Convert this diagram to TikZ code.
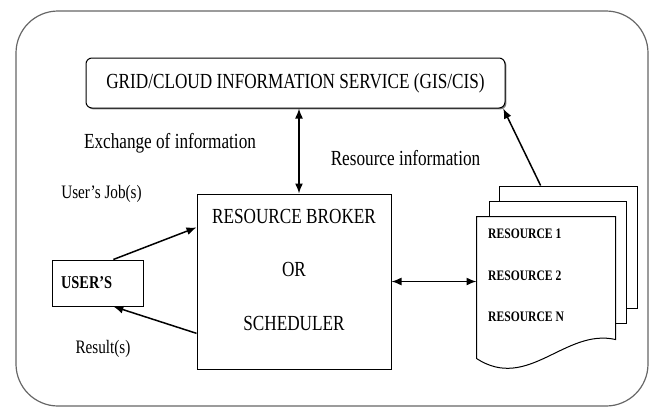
\documentclass[tikz,border=0pt]{standalone}
\usepackage{fontspec}
\setmainfont{Liberation Serif}[FakeStretch=0.8]
\usetikzlibrary{arrows.meta,shadows}

\begin{document}
\begin{tikzpicture}[x=1pt, y=-1pt,
        box/.style={draw=black, line width=1pt, fill=white},
        page/.style={box, minimum width=138pt, minimum height=122pt},
        conn/.style={line width=1.5pt, -{Latex[length=10pt,width=8pt]}},
        dconn/.style={line width=1.5pt, {Latex[length=10pt,width=8pt]}-{Latex[length=10pt,width=8pt]}},
        bigtext/.style={font=\fontsize{21.5}{26}\selectfont, inner sep=0pt},
        smalltext/.style={font=\fontsize{19}{23}\selectfont, inner sep=0pt}]

            \useasboundingbox (0,0) rectangle (654,408);
            \draw[black!60, line width=1.2pt, rounded corners=42pt] (16,11) rectangle (648,406);

            \node[box, rounded corners=6pt, minimum width=419pt, minimum height=50pt,
                drop shadow={shadow xshift=1.4pt, shadow yshift=-1.4pt, fill=black!70, opacity=0.7},
                font=\fontsize{21.5}{26}\selectfont] (gis) at (295.5,83) {GRID/CLOUD INFORMATION SERVICE (GIS/CIS)};

            \node[box, minimum width=194pt, minimum height=175pt] (broker) at (294,281.5) {};
            \node[bigtext, align=center, font=\fontsize{21.5}{53.5}\selectfont] (brokertxt) at (294,269.5) {RESOURCE BROKER\\OR\\SCHEDULER};

            \node[box, minimum height=46pt, text width=73pt, inner xsep=9pt, align=left,
                font=\bfseries\fontsize{18}{22}\selectfont] (user) at (97.5,283) {USER'S};

            \node[page] (back) at (568,247) {};
            \node[page, minimum width=137pt] (middle) at (557.5,262) {};
            \node[page, draw=none, fill=none, minimum height=141pt] (front) at (546,287.5) {};
            \draw[box] (front.north west) -- (front.north east) -- ([yshift=19pt]front.south east)
                .. controls (565,328) and (528,392) .. (front.south west) -- cycle;
            \node[anchor=north west, inner sep=0pt, align=left,
                font=\bfseries\fontsize{14.5}{41.5}\selectfont] (reslist) at (488,229) {RESOURCE 1\\RESOURCE 2\\RESOURCE N};

            \node[bigtext, anchor=base] (exchange) at (170,148) {Exchange of information};
            \node[bigtext, anchor=base] (resinfo) at (405.5,165) {Resource information};
            \node[smalltext, anchor=base] (jobs) at (101.5,198) {User's Job(s)};
            \node[smalltext, anchor=base] (results) at (103,353) {Result(s)};

            \draw[dconn] ([xshift=5pt]broker.north) -- ([xshift=5pt]broker.north |- gis.south);
            \draw[dconn] (broker.east) -- (broker.east -| front.west);
            \draw[conn] (user.56) -- (broker.151);
            \draw[conn] (broker.208) -- (user.304);
            \draw[conn] (back.114) -- (gis.-7);
        \end{tikzpicture}
\end{document}
